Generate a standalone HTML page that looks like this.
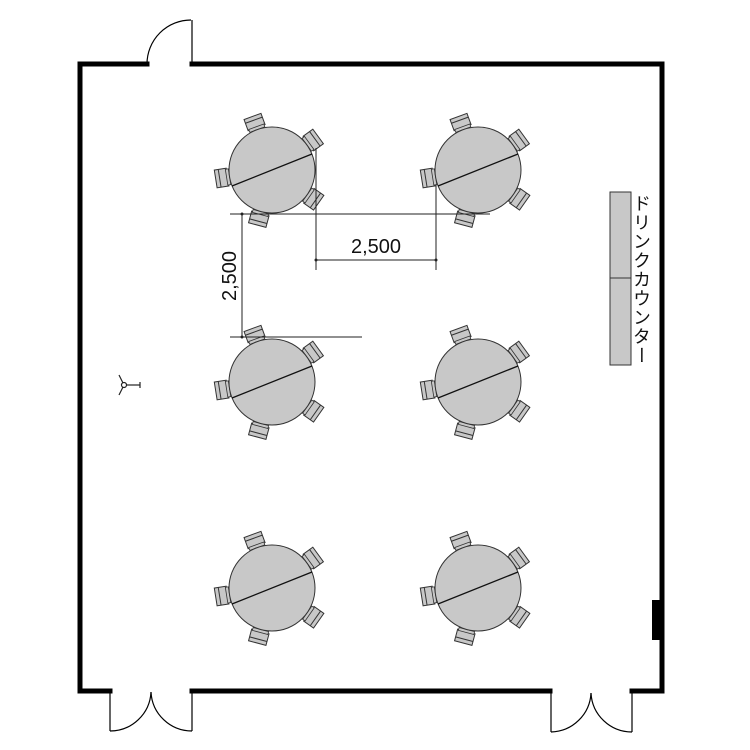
<!DOCTYPE html>
<html><head><meta charset="utf-8"><style>body{margin:0;background:#fff}svg{display:block}</style></head><body>
<svg width="750" height="750" viewBox="0 0 750 750" xmlns="http://www.w3.org/2000/svg">
<defs>
<g id="chair">
<rect x="45" y="-9" width="12" height="18" fill="#c8c8c8" stroke="#333" stroke-width="1"/>
<line x1="53" y1="-9" x2="53" y2="9" stroke="#333" stroke-width="1"/>
<rect x="43" y="-8" width="3" height="16" fill="#c8c8c8" stroke="#333" stroke-width="0.8"/>
</g>
<g id="table">
<use href="#chair" transform="rotate(-110)"/>
<use href="#chair" transform="rotate(-36)"/>
<use href="#chair" transform="rotate(35)"/>
<use href="#chair" transform="rotate(105)"/>
<use href="#chair" transform="rotate(171)"/>
<circle r="43" fill="#c8c8c8" stroke="#333" stroke-width="1"/>
<line x1="-40" y1="16" x2="40" y2="-16" stroke="#111" stroke-width="1.3"/>
</g>
</defs>
<g fill="none" stroke="#000" stroke-width="5" stroke-linecap="square">
<polyline points="147,64 80,64 80,691 110,691"/>
<polyline points="192,691 550,691"/>
<polyline points="632,691 662,691 662,64 192,64"/>
</g>
<rect x="652" y="600" width="10" height="40" fill="#000"/>
<g fill="none" stroke="#000" stroke-width="1.2">
<line x1="192" y1="20" x2="192" y2="64"/>
<path d="M147,64 A44,44 0 0 1 191,20"/>
<line x1="110" y1="691" x2="110" y2="731"/>
<line x1="192" y1="691" x2="192" y2="731"/>
<path d="M110,731 A41,41 0 0 0 151,692"/>
<path d="M192,731 A41,41 0 0 1 151,692"/>
<line x1="551" y1="691" x2="551" y2="732"/>
<line x1="632" y1="691" x2="632" y2="732"/>
<path d="M551,732 A41,41 0 0 0 591,693"/>
<path d="M632,732 A41,41 0 0 1 591,693"/>
</g>
<use href="#table" transform="translate(272,170)"/>
<use href="#table" transform="translate(478,170)"/>
<use href="#table" transform="translate(272,382)"/>
<use href="#table" transform="translate(478,382)"/>
<use href="#table" transform="translate(272,588)"/>
<use href="#table" transform="translate(478,588)"/>
<g stroke="#222" stroke-width="1" fill="none">
<line x1="230" y1="214" x2="490" y2="214"/>
<line x1="316" y1="148" x2="316" y2="270"/>
<line x1="436" y1="185" x2="436" y2="270"/>
<line x1="316" y1="260" x2="436" y2="260"/>
<line x1="242" y1="214" x2="242" y2="337"/>
<line x1="230" y1="337" x2="362" y2="337"/>
</g>
<g fill="#222"><circle cx="316" cy="260" r="1.5"/><circle cx="436" cy="260" r="1.5"/><circle cx="242" cy="214" r="1.5"/><circle cx="242" cy="337" r="1.5"/></g>
<text x="376" y="253" font-family="Liberation Sans, sans-serif" font-size="20" text-anchor="middle" fill="#111">2,500</text>
<text transform="translate(236,276) rotate(-90)" font-family="Liberation Sans, sans-serif" font-size="20" text-anchor="middle" fill="#111">2,500</text>
<rect x="610" y="192" width="21" height="173" fill="#c8c8c8" stroke="#333" stroke-width="1"/>
<line x1="610" y1="278" x2="631" y2="278" stroke="#333" stroke-width="1"/>
<text x="641" y="194" font-family="Liberation Sans, 'Noto Sans CJK JP', sans-serif" font-size="18" fill="#111" style="writing-mode:vertical-rl;letter-spacing:1px">ドリンクカウンター</text>
<g stroke="#222" stroke-width="1.2" fill="none">
<circle cx="124" cy="385" r="2.5"/>
<line x1="126" y1="385" x2="140" y2="385"/>
<line x1="123" y1="383" x2="119" y2="375"/>
<line x1="123" y1="387" x2="119" y2="395"/>
<line x1="140" y1="382" x2="140" y2="388"/>
</g>
</svg>
</body></html>
